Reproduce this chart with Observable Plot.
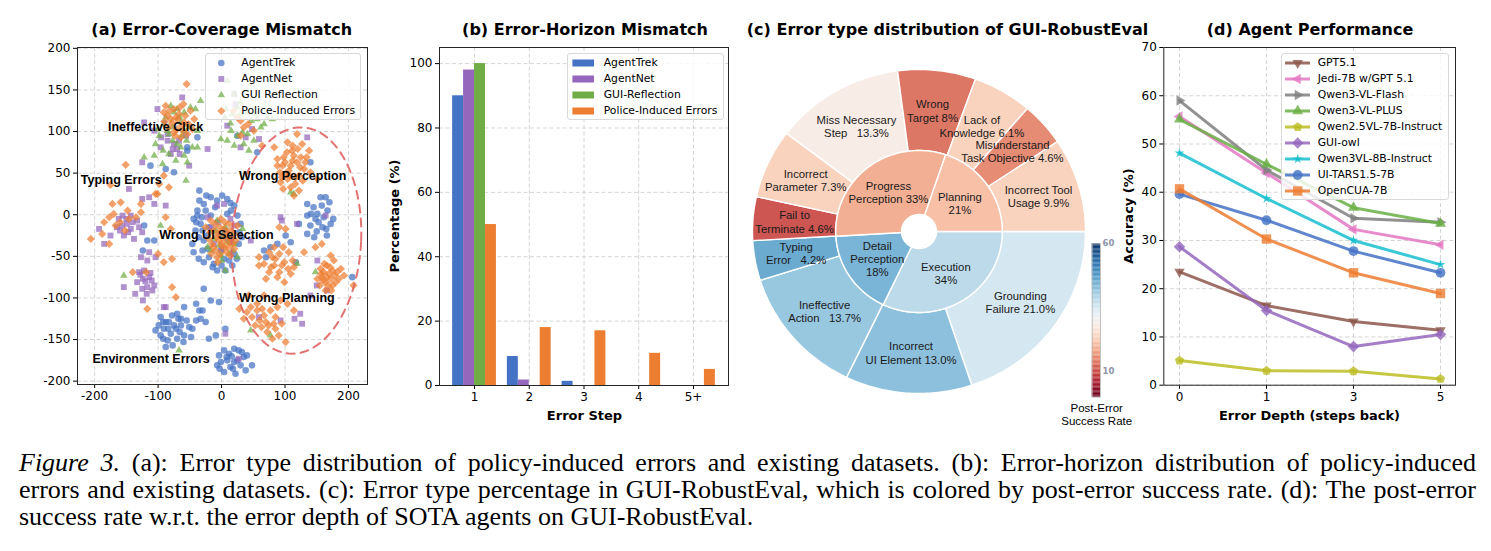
<!DOCTYPE html>
<html>
<head>
<meta charset="utf-8">
<script src="https://cdn.jsdelivr.net/npm/d3@7"></script>
<script src="https://cdn.jsdelivr.net/npm/@observablehq/plot@0.6"></script>
<style>
  html, body { margin: 0; padding: 0; background: #fff; }
  #figure { position: relative; width: 1491px; height: 551px; overflow: hidden; background: #fff;
            font-family: "DejaVu Sans", sans-serif; color: #000; }
  .panel { position: absolute; top: 0; }
  .panel svg [aria-label*="tick label"] { font-size: 12px !important; font-family: "DejaVu Sans" !important; }
  .panel.cbar svg [aria-label*="tick label"] { font-size: 8.5px !important; font-weight: bold; fill: #8d95a6; }
  .title { position: absolute; top: 20px; height: 20px; line-height: 20px; font-weight: bold; font-size: 16px;
           white-space: nowrap; transform: translateX(-50%); }
  .axlabel { position: absolute; font-weight: bold; font-size: 13px; white-space: nowrap; line-height: 16px;
             transform: translate(-50%, -50%); }
  .axlabel.rot { transform: translate(-50%, -50%) rotate(-90deg); }
  .legend { position: absolute; background: rgba(255,255,255,0.82); border: 1px solid #d9d9d9; border-radius: 3px;
            box-sizing: border-box; }
  .legend .row { position: absolute; left: 0; width: 100%; height: 16px; line-height: 16px; font-size: 10.8px; white-space: nowrap; }
  .legend svg { position: absolute; top: 0; left: 0; overflow: visible; }
  .legend span { position: absolute; top: 0; }
  .cbar-title { position: absolute; font-family: "Liberation Sans", sans-serif; font-size: 11.5px; line-height: 13px;
                text-align: center; transform: translateX(-50%); white-space: nowrap; }
  .caption { position: absolute; left: 19px; width: 1457px; top: 449px; font-family: "Liberation Serif", serif;
             font-size: 26px; line-height: 27px; color: #000; }
  .caption div { text-align: justify; text-align-last: justify; white-space: nowrap; }
  .caption div.last { text-align: left; text-align-last: left; }
  svg text { white-space: pre; }
</style>
</head>
<body>
<div id="figure">
  <div class="title" style="left:221.7px">(a) Error-Coverage Mismatch</div>
  <div class="title" style="left:585px">(b) Error-Horizon Mismatch</div>
  <div class="title" style="left:947.5px">(c) Error type distribution of GUI-RobustEval</div>
  <div class="title" style="left:1310px">(d) Agent Performance</div>
  <div class="axlabel rot" style="left:395px;top:216px">Percentage (%)</div>
  <div class="axlabel" style="left:584.5px;top:416px">Error Step</div>
  <div class="axlabel rot" style="left:1128.5px;top:216px">Accuracy (%)</div>
  <div class="axlabel" style="left:1309.5px;top:416px">Error Depth (steps back)</div>
  <div class="cbar-title" style="left:1096.7px;top:402px">Post-Error<br>Success Rate</div>
  <div class="caption">
    <div><i>Figure 3.</i> (a): Error type distribution of policy-induced errors and existing datasets. (b): Error-horizon distribution of policy-induced</div>
    <div>errors and existing datasets. (c): Error type percentage in GUI-RobustEval, which is colored by post-error success rate. (d): The post-error</div>
    <div class="last">success rate w.r.t. the error depth of SOTA agents on GUI-RobustEval.</div>
  </div>
</div>
<script>
// ---------------- (a) Error-Coverage Mismatch: 2-D embedding of error samples ----------------
const scatterNames = ["AgentTrek", "AgentNet", "GUI Reflection", "Police-Induced Errors"];

const agentTrekXY = [
  [-35,29],[-17,21],[-7,17],[9,19],[-28,13],[20,11],[-38,5],[-38,-1],[-33,-11],[-41,-19],[-28,-31],[-30,-43],
  [-20,-51],[-36,-27],[25,-1],[30,-11],[27,-35],[9,1],[-17,-1],[20,-47],[4,-53],[-28,-57],[-7,-67],[6,-67],
  [-20,-15],[-1,-43],[-46,-35],[-25,5],[-10,9],[15,5],[-30,-19],[-22,-41],[12,-55],[-12,-59],
  [-40,-9],[-35,17],[-24,23],[1,23],[14,14],[28,-21],[32,-27],[-44,-45],[-36,-53],[-14,-63],[17,-61],[24,-53],
  [-31,-3],[-22,-25],[-44,-5],[0,-61],
  [-122,-13],[-117,-31],[-124,-43],[-106,-31],
  [-96,-123],[-83,-129],[-70,-119],[-59,-111],[-64,-133],[-91,-137],[-80,-143],[-72,-137],[-96,-145],[-85,-151],
  [-70,-149],[-99,-133],[-59,-145],[-51,-135],[-40,-127],[-33,-125],[-25,-129],[-46,-137],[-35,-115],[-28,-89],
  [-17,-103],[-4,-105],[-77,-157],[-88,-159],[-48,-147],[-20,-149],[-40,-107],[-30,-115],[-64,-125],[-104,-139],
  [-88,-129],[-78,-121],[-92,-129],[-75,-133],[-66,-141],[-84,-137],[-55,-127],[-60,-153],[-92,-149],[-68,-125],
  [4,-163],[12,-167],[20,-161],[27,-163],[9,-175],[20,-177],[-1,-177],[35,-171],[-7,-181],[14,-183],[30,-181],
  [40,-169],[4,-189],[22,-191],[48,-181],[38,-187],[6,-137],[-9,-145],[16,-170],[-4,-169],
  [8,-171],[25,-175],[18,-185],[-3,-185],[32,-165],
  [156,21],[164,21],[135,13],[167,5],[141,1],[135,-1],[148,-5],[161,-3],[172,-11],[159,-15],[140,-13],[166,-25],
  [135,-23],[151,1],[122,-11],[170,15],[150,-20],[145,9],[158,11],[153,-9],[165,-17],[176,-5],[146,-27],
  [67,-43],[77,-39],[88,-35],[109,-33],[117,-57],[101,-25],[206,-75],[70,-51],[-112,59],[-88,55],[-75,51],
  [-54,81],[-38,93],[-54,77],[25,95],[56,75],[140,63]
];
const agentNetXY = [
  [-146,31],[-114,21],[-156,-1],[-149,-11],[-165,-15],[-143,-17],[-154,-25],[-193,-17],[-185,-35],[-175,-25],
  [-133,-7],[-125,-21],[-143,-1],[-125,19],[-106,13],[-88,11],[-160,-19],[-138,-29],
  [-150,-5],[-157,-13],[-140,-9],[-162,-5],[-147,-21],[-130,-15],
  [-114,-45],[-104,-51],[-127,-51],[-117,-55],
  [-130,-69],[-122,-67],[-114,-75],[-124,-77],[-117,-87],[-106,-85],[-133,-81],[-136,-95],[-124,-103],[-109,-91],
  [-91,-111],[-154,-87],[-120,-80],[-112,-70],[-125,-89],[-118,-95],[-128,-72],[-110,-79],
  [-101,127],[-62,141],[-122,111],[-106,101],[-85,89],[-70,79],[-80,73],[-125,63],[-51,59],[-22,79],[-96,81],
  [-67,89],[-56,95],[-90,110],[-75,85],[-85,97],[-95,93],[-77,79],[-66,73],
  [9,107],[22,133],[38,93],[48,103],[30,81],[59,91],[135,93],[20,145],
  [-22,-3],[14,-5],[6,-19],[-12,-35],[46,-31],[-7,11],[4,13],[-2,-25],[15,-30],
  [-6,-9],[9,-29],[-16,-15],[20,-13],[0,-41],
  [119,-11],[59,-123],[93,-127],[124,-119],[166,-91],[27,-173],[6,-143],[164,-1],[93,-3],[151,-55],[-88,-111],
  [140,-97],[115,-125],[127,-131],[95,-7],[150,-85]
];
const guiReflectionXY = [
  [-80,131],[-70,127],[-59,123],[-49,129],[-41,127],[-91,109],[-77,105],[-59,101],[-51,105],[-98,95],[-83,97],
  [-70,85],[-104,85],[-122,69],[-106,71],[-59,71],[-83,73],[-64,81],[-46,81],[-54,63],[-93,61],[-72,65],[-38,101],
  [-33,137],[-56,41],[-38,81],[-88,117],[-64,111],
  [-75,123],[-85,101],[-66,117],[-55,89],[-92,77],[-77,89],[-62,95],[-100,103],
  [9,161],[20,145],[7,127],[17,121],[30,121],[41,123],[56,115],[67,109],[-1,91],[9,89],[20,83],[35,85],[51,89],
  [62,105],[41,97],[25,95],[43,77],[72,117],[80,115],[30,135],[14,110],
  [25,129],[47,113],[33,99],[15,101],[52,121],[5,117],
  [-7,-7],[6,-15],[14,-25],[-17,-43],[-1,-49],[12,-47],[20,-35],[25,-51],[-12,-29],[-22,-39],[-96,-13],[6,-67],
  [33,-17],[0,-55],[-9,-19],[10,-33],[-4,-37],[17,-43],[2,-25],
  [-154,-73],[-67,-163],[46,-139],[77,-145],[119,-59],[148,-69],[109,27],[114,25]
];
const policyErrorXY = [
  [-55,157],
  [-88,131],[-75,127],[-67,121],[-80,115],[-59,111],[-70,103],[-83,105],[-54,97],[-64,93],[-43,115],[-91,123],
  [-49,125],[-75,99],[-62,107],[-72,117],[-85,119],[-66,129],
  [-78,111],[-69,115],[-57,119],[-90,112],[-61,101],[-73,95],[-52,109],[-82,125],[-60,133],[-46,103],
  [-151,60],[-175,36],
  [19,125],[30,113],[35,105],[30,95],[51,101],[64,83],[25,117],[42,109],
  [104,87],[119,97],[111,77],[98,69],[125,69],[88,59],[109,59],[130,55],[101,49],[117,45],[140,51],[93,39],
  [109,33],[122,29],[114,23],[138,77],[83,81],[151,43],[104,43],[119,63],[96,59],[114,71],[127,85],[106,53],
  [122,47],[92,51],
  [100,63],[112,65],[124,57],[107,47],[95,45],[116,37],[132,63],[103,75],[120,79],[88,67],[128,41],[134,69],
  [112,83],[97,31],
  [-91,47],[-98,37],[-83,33],[-101,25],
  [-177,-3],[-170,1],[-160,-9],[-146,-5],[-135,-3],[-206,-29],[-177,-35],[-188,-23],[-167,-13],[-127,3],[-172,13],
  [-159,15],[-148,5],[-127,13],[-104,25],[-185,-9],[-152,-19],
  [-17,-7],[-1,-5],[12,-11],[-12,-19],[4,-17],[20,-23],[-20,-29],[-4,-31],[12,-33],[4,-39],[-9,-43],[20,-41],
  [25,-13],[-25,-15],[-7,-51],[6,-27],[-15,-35],[-5,-23],[8,-45],[15,-19],[-10,-11],[0,-37],
  [-3,-15],[8,-21],[-8,-27],[16,-29],[2,-33],[-13,-39],[10,-39],[-2,-47],[17,-35],[-18,-21],[5,-9],[22,-31],
  [-6,-57],[14,-49],[-16,-47],
  [-88,-3],[-80,-17],[-91,-57],[-119,-69],[-78,-87],[-72,-99],[-117,-113],[-140,-69],[-100,-47],[-78,-53],
  [91,-15],[101,-17],[83,-39],[59,-51],[75,-45],[91,-47],[106,-45],[67,-59],[83,-61],[99,-57],[114,-63],[75,-69],
  [91,-69],[109,-71],[99,-81],[70,-77],[130,-45],[148,-39],[158,-35],[59,-61],[85,-53],
  [80,-51],[95,-61],[105,-65],[88,-75],[78,-63],[97,-39],[112,-55],
  [156,-65],[166,-61],[175,-67],[158,-75],[172,-77],[164,-81],[180,-81],[151,-77],[172,-49],[177,-55],[193,-73],
  [208,-85],[164,-91],[169,-71],[161,-69],[168,-85],[178,-73],[155,-85],
  [162,-59],[171,-63],[182,-69],[160,-79],[175,-85],[166,-75],[185,-77],[157,-71],[173,-91],[188,-65],
  [28,-113],[35,-125],[46,-111],[56,-107],[67,-121],[77,-115],[85,-123],[88,-111],[53,-133],[63,-135],[74,-133],
  [85,-137],[80,-149],[101,-153],[67,-97],[104,-107],[114,-115],[43,-97],[93,-103],[56,-115],[72,-141],[48,-123],
  [95,-131],[60,-127],[70,-129],[82,-131],[64,-113],[90,-145],[40,-117]
];
const clusterNames = ["Ineffective Click", "Typing Errors", "Wrong Perception", "Wrong UI Selection", "Wrong Planning", "Environment Errors"];
const clusterAnchors = [[-104,106], [-158,42], [112,47], [-8,-24], [103,-100], [-111,-173]];
// dashed outline around the policy-only error region
const policyRegion = {cx: 118, cy: -31, rx: 102, ry: 136, lean: 0.05};

// ---------------- (b) Error-Horizon Mismatch ----------------
const errorSteps = ["1", "2", "3", "4", "5+"];
const horizonNames = ["AgentTrek", "AgentNet", "GUI-Reflection", "Police-Induced Errors"];
const horizonAgentTrek = [90, 9, 1.3, 0, 0];
const horizonAgentNet = [98, 1.7, 0, 0, 0];
const horizonGuiReflection = [100, 0, 0, 0, 0];
const horizonPolicy = [50, 18, 17, 10, 5];

// ---------------- (c) Error type distribution of GUI-RobustEval ----------------
const stageNames = ["Execution\n", "Detail\nPerception\n", "Progress\nPerception ", "Planning\n"];
const stageShareText = ["34", "18", "33", "21"];
const stageSuccess = [38.5, 44.7, 18.5, 20.5];
const errorTypeNames = ["Grounding\nFailure ", "Incorrect\nUI Element ", "Ineffective\nAction   ", "Typing\nError   ",
  "Fail to\nTerminate ", "Incorrect\nParameter ", "Miss Necessary\nStep   ", "Wrong\nTarget ", "Lack of\nKnowledge ",
  "Misunderstand\nTask Objective ", "Incorrect Tool\nUsage "];
const errorShareText = ["21.0", "13.0", "13.7", "4.2", "4.6", "7.3", "13.3", "8", "6.1", "4.6", "9.9"];
const errorSuccess = [35.5, 43, 42, 46, 10, 23, 28, 13, 23, 15, 23];
const successTicks = [10, 60];

// ---------------- (d) Agent Performance ----------------
const depthLabels = ["0", "1", "3", "5"];
const agentNames = ["GPT5.1", "Jedi-7B w/GPT 5.1", "Qwen3-VL-Flash", "Qwen3-VL-PLUS", "Qwen2.5VL-7B-Instruct",
  "GUI-owl", "Qwen3VL-8B-Instruct", "UI-TARS1.5-7B", "OpenCUA-7B"];
const accGpt51 = [23.5, 16.5, 13.2, 11.4];
const accJedi7b = [55.7, 44.0, 32.3, 29.1];
const accQwen3Flash = [59.0, 44.6, 34.6, 33.8];
const accQwen3Plus = [55.1, 45.8, 36.8, 33.5];
const accQwen25Vl7b = [5.1, 3.0, 2.9, 1.3];
const accGuiOwl = [28.7, 15.5, 8.0, 10.5];
const accQwen3Vl8b = [48.1, 38.7, 30.0, 25.0];
const accUiTars = [39.6, 34.2, 27.8, 23.3];
const accOpenCua = [40.7, 30.3, 23.3, 19.0];

// ================= drawing =================
const fig = document.getElementById("figure");
const baseStyle = {fontFamily: "DejaVu Sans", fontSize: "12px", color: "#000", background: "none", overflow: "visible"};
const gridStyle = {stroke: "#c9c9c9", strokeWidth: 0.8, strokeDasharray: "4,2.5"};
const frameStyle = {stroke: "#262626", strokeWidth: 1};

function place(node, left, top, extraClass) {
  const wrap = document.createElement("div");
  wrap.className = "panel" + (extraClass ? " " + extraClass : "");
  wrap.style.left = left + "px";
  wrap.style.top = top + "px";
  wrap.appendChild(node);
  fig.appendChild(wrap);
}

// polygon marker shapes that d3 does not ship (pointing down / left / right, pentagon)
function polygonSymbol(degrees, k) {
  return {
    draw(ctx, size) {
      const R = Math.sqrt(size / Math.PI) * k;
      degrees.forEach((a, i) => {
        const t = a * Math.PI / 180, px = R * Math.cos(t), py = R * Math.sin(t);
        if (i === 0) ctx.moveTo(px, py); else ctx.lineTo(px, py);
      });
      ctx.closePath();
    }
  };
}
const symTriDown = polygonSymbol([90, 210, 330], 1.2);
const symTriLeft = polygonSymbol([180, 300, 60], 1.2);
const symTriRight = polygonSymbol([0, 120, 240], 1.2);
const symPentagon = polygonSymbol([-90, -18, 54, 126, 198], 1.1);

function legend(box, labels, drawKey) {
  const el = document.createElement("div");
  el.className = "legend";
  Object.assign(el.style, {left: box.left + "px", top: box.top + "px", width: box.width + "px", height: box.height + "px"});
  labels.forEach((label, i) => {
    const row = document.createElement("div");
    row.className = "row";
    row.style.top = (box.first + i * 16 - 8) + "px";
    const svg = d3.create("svg").attr("width", 32).attr("height", 16);
    drawKey(svg, i);
    row.appendChild(svg.node());
    const span = document.createElement("span");
    span.style.left = box.textLeft + "px";
    span.textContent = label;
    row.appendChild(span);
    el.appendChild(row);
  });
  fig.appendChild(el);
}

// ---------- panel (a) ----------
const scatterSets = [agentTrekXY, agentNetXY, guiReflectionXY, policyErrorXY];
const scatterColors = ["#4472C4", "#9467BD", "#70AD47", "#ED7D31"];
const scatterSymbols = [d3.symbolCircle, d3.symbolSquare, d3.symbolTriangle, d3.symbolDiamond2];
const scatterR = [3.3, 3.3, 2.8, 3.7];
const regionPath = d3.range(0, 361, 3).map(deg => {
  const t = deg * Math.PI / 180;
  return {x: policyRegion.cx + policyRegion.rx * Math.cos(t) + policyRegion.lean * policyRegion.ry * Math.sin(t),
          y: policyRegion.cy + policyRegion.ry * Math.sin(t)};
});
const ticksAX = [-200, -100, 0, 100, 200];
const ticksAY = d3.range(-200, 201, 50);
place(Plot.plot({
  width: 380, height: 430, marginLeft: 77, marginRight: 13, marginTop: 47, marginBottom: 46,
  style: baseStyle,
  x: {domain: [-227, 230], ticks: ticksAX, tickFormat: d => String(d), tickSize: 4, tickPadding: 3, label: null},
  y: {domain: [-204, 201], ticks: ticksAY, tickFormat: d => String(d), tickSize: 4, tickPadding: 3, label: null},
  marks: [
    Plot.ruleX(ticksAX, gridStyle),
    Plot.ruleY(ticksAY, gridStyle),
    ...scatterSets.map((pts, i) => Plot.dot(pts, {
      x: d => d[0], y: d => d[1], symbol: scatterSymbols[i], r: scatterR[i],
      fill: scatterColors[i], fillOpacity: 0.72, stroke: "none"
    })),
    Plot.line(regionPath, {x: "x", y: "y", curve: "linear-closed", stroke: "#DF6464", strokeOpacity: 0.9,
      strokeWidth: 2, strokeDasharray: "8,6"}),
    Plot.text(clusterNames, {x: (d, i) => clusterAnchors[i][0], y: (d, i) => clusterAnchors[i][1], text: d => d,
      fontFamily: "Liberation Sans", fontWeight: "bold", fontSize: 12.5, fill: "#000"}),
    Plot.frame(frameStyle)
  ]
}), 0, 0);
legend({left: 204.7, top: 53, width: 156.6, height: 67.3, first: 9, textLeft: 35.6}, scatterNames, (svg, i) => {
  svg.append("path").attr("transform", "translate(15.3,8)")
    .attr("d", d3.symbol(scatterSymbols[i], Math.PI * scatterR[i] * scatterR[i])())
    .attr("fill", scatterColors[i]).attr("fill-opacity", 0.72);
});

// ---------- panel (b) ----------
const horizonSets = [horizonAgentTrek, horizonAgentNet, horizonGuiReflection, horizonPolicy];
const horizonColors = ["#4472C4", "#9467BD", "#70AD47", "#ED7D31"];
const horizonRows = [];
horizonSets.forEach((vals, s) => vals.forEach((v, k) => {
  if (v > 0) horizonRows.push({series: horizonNames[s], slot: s, step: k + 1, value: v});
}));
const ticksBY = d3.range(0, 101, 20);
place(Plot.plot({
  width: 355, height: 430, marginLeft: 59, marginRight: 7, marginTop: 47, marginBottom: 45,
  style: baseStyle,
  x: {domain: [0.36, 5.64], ticks: [1, 2, 3, 4, 5], tickFormat: d => errorSteps[d - 1], tickSize: 4, tickPadding: 3, label: null},
  y: {domain: [0, 105], ticks: ticksBY, tickSize: 4, tickPadding: 3, label: null},
  color: {domain: horizonNames, range: horizonColors},
  marks: [
    Plot.ruleX([1, 2, 3, 4, 5], gridStyle),
    Plot.ruleY(ticksBY, gridStyle),
    Plot.rect(horizonRows, {
      x1: d => d.step - 0.4 + d.slot * 0.2, x2: d => d.step - 0.2 + d.slot * 0.2,
      y1: 0, y2: "value", fill: "series"
    }),
    Plot.frame(frameStyle)
  ]
}), 380, 0);
legend({left: 567.3, top: 53.3, width: 156.7, height: 66.7, first: 9, textLeft: 35.4}, horizonNames, (svg, i) => {
  svg.append("rect").attr("x", 4.4).attr("y", 4.5).attr("width", 21.6).attr("height", 7).attr("fill", horizonColors[i]);
});

// ---------- panel (c) ----------
const R_HOLE = 0.105, R_SPLIT = 0.5, R_OUTER = 1;
function ring(names, shareText, success, r0, r1, tag) {
  const shares = shareText.map(Number);
  const total = d3.sum(shares);
  const polys = [], labels = [];
  let acc = 0;
  shares.forEach((share, i) => {
    const a0 = acc / total * 2 * Math.PI, a1 = (acc + share) / total * 2 * Math.PI;
    acc += share;
    const n = Math.max(2, Math.ceil((a1 - a0) / (Math.PI / 180)));
    const id = tag + i;
    for (let k = 0; k <= n; k++) {
      const a = a0 + (a1 - a0) * k / n;
      polys.push({id, v: success[i], x: r1 * Math.cos(a), y: -r1 * Math.sin(a)});
    }
    for (let k = n; k >= 0; k--) {
      const a = a0 + (a1 - a0) * k / n;
      polys.push({id, v: success[i], x: r0 * Math.cos(a), y: -r0 * Math.sin(a)});
    }
    const am = (a0 + a1) / 2, rm = (r0 + r1) / 2;
    labels.push({x: rm * Math.cos(am), y: -rm * Math.sin(am), text: names[i] + shareText[i] + "%"});
  });
  return {polys, labels};
}
const innerRing = ring(stageNames, stageShareText, stageSuccess, R_HOLE, R_SPLIT, "s");
const outerRing = ring(errorTypeNames, errorShareText, errorSuccess, R_SPLIT, R_OUTER, "e");
const wedgeColor = {type: "linear", scheme: "rdbu", domain: [0, 60]};
place(Plot.plot({
  width: 380, height: 430, marginLeft: 12, marginRight: 35, marginTop: 69, marginBottom: 37,
  style: baseStyle,
  x: {domain: [-1, 1], axis: null},
  y: {domain: [-1, 1], axis: null},
  color: wedgeColor,
  marks: [
    Plot.line(outerRing.polys.concat(innerRing.polys), {x: "x", y: "y", z: "id", fill: "v", fillOpacity: 0.92,
      stroke: "white", strokeWidth: 1.4, curve: "linear-closed"}),
    Plot.text(outerRing.labels.concat(innerRing.labels), {x: "x", y: "y", text: "text",
      fontFamily: "Liberation Sans", fontSize: 11.3, lineHeight: 1.17, fill: "#1a1a1a"})
  ]
}), 740, 0);
// colour bar for the post-error success rate
const rampSteps = d3.range(0, 60, 0.5);
place(Plot.plot({
  width: 40, height: 170, marginLeft: 6.7, marginRight: 25, marginTop: 8.2, marginBottom: 8.3,
  style: {...baseStyle, fontSize: "8.5px"},
  x: {domain: [0, 1], axis: null},
  y: {domain: [0, 60], ticks: successTicks, axis: "right", tickSize: 0, tickPadding: 2, label: null},
  color: wedgeColor,
  marks: [
    Plot.rect(rampSteps, {x1: 0, x2: 1, y1: d => d, y2: d => d + 0.5, fill: d => d + 0.25}),
    Plot.frame({stroke: "#b5b5b5", strokeWidth: 0.8})
  ]
}), 1085, 235, "cbar");

// ---------- panel (d) ----------
const accSets = [accGpt51, accJedi7b, accQwen3Flash, accQwen3Plus, accQwen25Vl7b, accGuiOwl, accQwen3Vl8b, accUiTars, accOpenCua];
const agentColors = ["#8C564B", "#E377C2", "#7F7F7F", "#6AAF45", "#BCBD22", "#9467BD", "#17BECF", "#4472C4", "#ED7D31"];
const agentSymbols = [symTriDown, symTriLeft, symTriRight, d3.symbolTriangle, symPentagon, d3.symbolDiamond2, d3.symbolStar, d3.symbolCircle, d3.symbolSquare];
const agentR = [5, 5, 5, 4.1, 4.4, 5.2, 3.1, 4.9, 5.3];
const ticksDY = d3.range(0, 71, 10);
const agentMarks = [];
accSets.forEach((vals, i) => {
  const rows = vals.map((v, k) => ({depth: depthLabels[k], acc: v}));
  agentMarks.push(Plot.line(rows, {x: "depth", y: "acc", stroke: agentColors[i], strokeWidth: 3, strokeOpacity: 0.85}));
  agentMarks.push(Plot.dot(rows, {x: "depth", y: "acc", symbol: agentSymbols[i], r: agentR[i],
    fill: agentColors[i], fillOpacity: 0.8, stroke: "none"}));
});
place(Plot.plot({
  width: 371, height: 430, marginLeft: 43.3, marginRight: 36, marginTop: 47, marginBottom: 45.3,
  style: baseStyle,
  x: {type: "point", domain: depthLabels, padding: 0.16, tickSize: 4, tickPadding: 3, label: null},
  y: {domain: [0, 70], ticks: ticksDY, tickSize: 4, tickPadding: 3, label: null},
  marks: [
    Plot.ruleX(depthLabels, gridStyle),
    Plot.ruleY(ticksDY, gridStyle),
    ...agentMarks,
    Plot.frame(frameStyle)
  ]
}), 1120, 0);
legend({left: 1281, top: 53.3, width: 168.3, height: 146.7, first: 9, textLeft: 35.7}, agentNames, (svg, i) => {
  svg.append("line").attr("x1", 3).attr("x2", 28).attr("y1", 8).attr("y2", 8)
    .attr("stroke", agentColors[i]).attr("stroke-width", 3).attr("stroke-opacity", 0.85);
  svg.append("path").attr("transform", "translate(15.7,8)")
    .attr("d", d3.symbol(agentSymbols[i], Math.PI * agentR[i] * agentR[i])())
    .attr("fill", agentColors[i]).attr("fill-opacity", 0.8);
});
</script>
</body>
</html>
